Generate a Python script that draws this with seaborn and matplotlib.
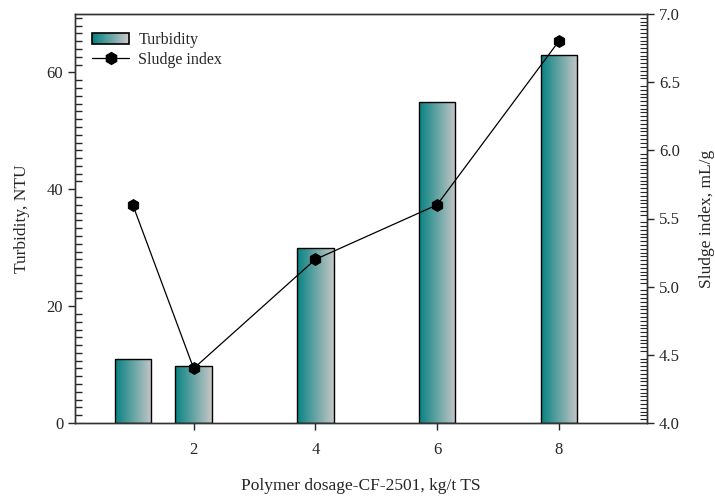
import numpy as np
import pandas as pd
import seaborn as sns
import matplotlib.pyplot as plt
from matplotlib.patches import Rectangle
from matplotlib.legend_handler import HandlerBase
from matplotlib.lines import Line2D
from matplotlib.ticker import MultipleLocator, AutoMinorLocator
from matplotlib.colors import LinearSegmentedColormap

# Data
dosage = [1, 2, 4, 6, 8]
turbidity = [11, 9.7, 30, 55, 63]
sludge_index = [5.6, 4.4, 5.2, 5.6, 6.8]

df = pd.DataFrame({'dosage': dosage, 'turbidity': turbidity, 'sludge': sludge_index})

sns.set_style('ticks')
plt.rcParams['font.family'] = ['Liberation Serif', 'DejaVu Serif']
plt.rcParams['axes.linewidth'] = 1.0

teal = '#078282'
light = '#c6c6c6'
grad = LinearSegmentedColormap.from_list('tealgray', [teal, light])

fig = plt.figure(figsize=(7.15, 4.96), dpi=100)
ax = fig.add_axes([75 / 715, 1 - 423 / 496, (647 - 75) / 715, (423 - 14) / 496])

sns.barplot(data=df, x='dosage', y='turbidity', native_scale=True, width=0.6,
            color=teal, edgecolor='black', linewidth=1.0, ax=ax, zorder=2)

# gradient fill inside each bar
gradient = np.linspace(0, 1, 256).reshape(1, -1)
for bar in ax.patches:
    x0, y0 = bar.get_x(), bar.get_y()
    w, h = bar.get_width(), bar.get_height()
    im = ax.imshow(gradient, cmap=grad, aspect='auto', extent=[x0, x0 + w, y0, y0 + h],
                   zorder=1.5, interpolation='bilinear')
    im.set_clip_path(bar)
    bar.set_facecolor('none')

ax.set_xlim(0.05, 9.45)
ax.set_ylim(0, 70)
ax.set_xticks([2, 4, 6, 8])
ax.yaxis.set_major_locator(MultipleLocator(20))
ax.yaxis.set_minor_locator(AutoMinorLocator(15))
ax.tick_params(axis='x', which='major', direction='out', length=5, width=1, labelsize=12, pad=9)
ax.tick_params(axis='y', which='major', direction='out', length=5, width=1, labelsize=12)
ax.tick_params(axis='y', which='minor', direction='in', length=5, width=1)
ax.set_xlabel('Polymer dosage-CF-2501, kg/t TS', fontsize=12.5, labelpad=14)
ax.set_ylabel('Turbidity, NTU', fontsize=12.5, labelpad=12)
for s in ax.spines.values():
    s.set_visible(True)
    s.set_color('#333333')

ax2 = ax.twinx()
sns.lineplot(data=df, x='dosage', y='sludge', color='black', linewidth=0.9,
             marker='h', markersize=8.5, markeredgecolor='black', ax=ax2)
ax2.set_ylim(4.0, 7.0)
ax2.yaxis.set_major_locator(MultipleLocator(0.5))
ax2.yaxis.set_minor_locator(AutoMinorLocator(18))
ax2.tick_params(axis='y', which='major', direction='out', length=5, width=1, labelsize=12)
ax2.tick_params(axis='y', which='minor', direction='in', length=5, width=0.8)
ax2.yaxis.set_major_formatter(plt.FormatStrFormatter('%.1f'))
ax2.set_ylabel('Sludge index, mL/g', fontsize=12.5, labelpad=14)
ax2.set_xlabel('')
ax2.set_xlim(0.05, 9.45)
for s in ax2.spines.values():
    s.set_color('#333333')


class GradientHandler(HandlerBase):
    def create_artists(self, legend, orig_handle, xdescent, ydescent, width, height, fontsize, trans):
        arts = []
        n = 24
        for i in range(n):
            r = Rectangle((-xdescent + width * i / n, -ydescent), width / n + 0.3, height,
                          facecolor=grad(i / (n - 1)), edgecolor='none', transform=trans)
            arts.append(r)
        arts.append(Rectangle((-xdescent, -ydescent), width, height, facecolor='none',
                              edgecolor='black', linewidth=1.2, transform=trans))
        return arts


bar_handle = Rectangle((0, 0), 1, 1)
line_handle = Line2D([], [], color='black', linewidth=0.9, marker='h', markersize=8.5)
ax.legend([bar_handle, line_handle], ['Turbidity', 'Sludge index'],
          handler_map={Rectangle: GradientHandler()}, loc='upper left',
          bbox_to_anchor=(0.03, 0.955), borderaxespad=0, borderpad=0,
          frameon=False, fontsize=11.5, handlelength=2.3, handletextpad=0.6,
          labelspacing=0.2)
if ax2.get_legend():
    ax2.get_legend().remove()

fig.savefig('out.png', dpi=100)
